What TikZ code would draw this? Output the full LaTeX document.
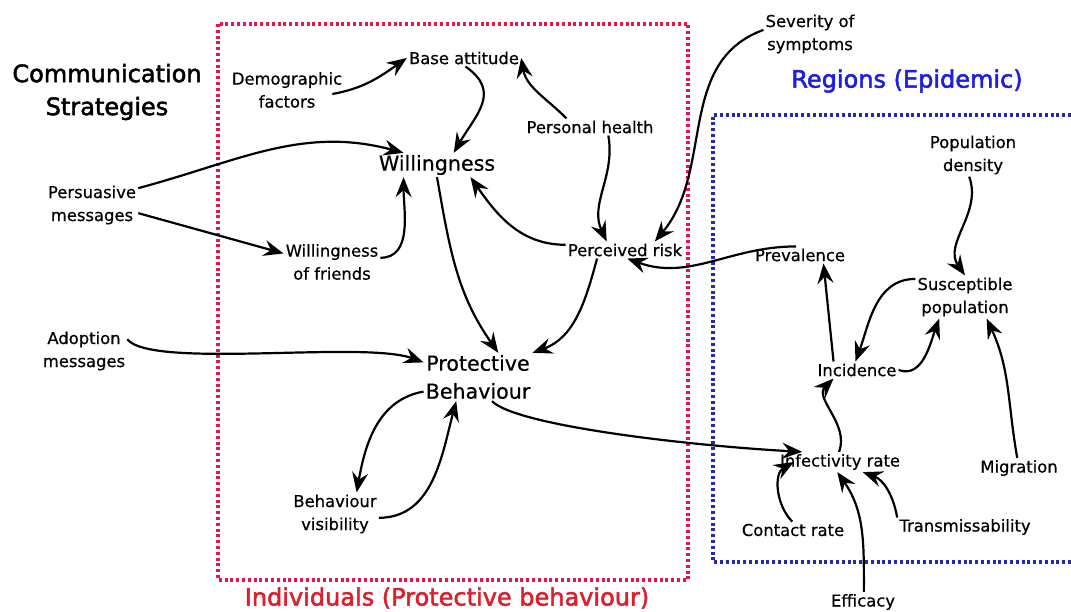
\documentclass[tikz,border=0pt]{standalone}
\usepackage{fontspec}
\setmainfont{DejaVu Sans}[FakeBold=0.6]
\newfontfamily\headfont{DejaVu Sans}[FakeBold=2]
\usetikzlibrary{arrows.meta}
\definecolor{boxred}{RGB}{232,20,76}
\definecolor{txtred}{RGB}{222,30,45}
\definecolor{boxblue}{RGB}{40,40,175}
\definecolor{txtblue}{RGB}{30,30,225}
\begin{document}
\begin{tikzpicture}[x=1pt,y=1pt,
  lbl/.style={font=\fontsize{16.4}{23}\selectfont,align=center,inner sep=2pt},
  keylbl/.style={font=\fontsize{20.6}{28}\selectfont,align=center,inner sep=2pt},
  heading/.style={font=\headfont\fontsize{24}{33}\selectfont,align=center,inner sep=2pt},
  link/.style={-{Stealth[length=20pt,width=16pt,inset=7pt]},line width=2.2pt},
  redbox/.style={draw=boxred,line width=3.2pt,dash pattern=on 3pt off 2.8pt},
  bluebox/.style={draw=boxblue,line width=3.2pt,dash pattern=on 3pt off 2.8pt}]
\useasboundingbox (0,0) rectangle (1071,612);
% the two areas
\draw[redbox] (218,588) rectangle (688,32);
\draw[bluebox] (1071,497) -- (713,497) -- (713,50) -- (1071,50);
\node[heading] (comm) at (107,520) {Communication\\Strategies};
\node[heading,txtblue] (regions) at (907,531) {Regions (Epidemic)};
\node[heading,txtred] (indiv) at (447,14) {Individuals (Protective behaviour)};
% individuals
\node[lbl] (demo) at (287,522) {Demographic\\factors};
\node[lbl] (base) at (464,554) {Base attitude};
\node[lbl] (health) at (590,485) {Personal health};
\node[keylbl] (will) at (437,447) {Willingness};
\node[lbl] (pers) at (92,407) {Persuasive\\messages};
\node[lbl] (friends) at (332,350) {Willingness\\of friends};
\node[lbl] (risk) at (625,362) {Perceived risk};
\node[lbl] (sever) at (810,578) {Severity of\\symptoms};
\node[lbl] (adopt) at (84,261) {Adoption\\messages};
\node[keylbl] (prot) at (478,235) {Protective\\Behaviour};
\node[lbl] (vis) at (335,98) {Behaviour\\visibility};
% regions
\node[lbl] (popden) at (973,457) {Population\\density};
\node[lbl] (prev) at (800,357) {Prevalence};
\node[lbl] (suscept) at (965,315) {Susceptible\\population};
\node[lbl] (incid) at (857,242) {Incidence};
\node[lbl] (infect) at (840,150) {Infectivity rate};
\node[lbl] (migr) at (1019,144) {Migration};
\node[lbl] (contact) at (793,82) {Contact rate};
\node[lbl] (trans) at (965,85) {Transmissability};
\node[lbl] (effic) at (863,10) {Efficacy};
% links
\draw[link] ([xshift=-12pt,yshift=-4pt]demo.east) to[out=10,in=215] (base.west);
\draw[link] (health.160) to[out=135,in=-80] (base.east);
\draw[link] (base.-80) to[out=-35,in=60,looseness=1.3] (will.36);
\draw[link] (pers.20) to[out=15,in=165] (will.160);
\draw[link] (pers.-10) -- (friends.170);
\draw[link] (friends.5) to[out=0,in=-90] (will.200);
\draw[link] (risk.175) to[out=180,in=-55] (will.-20);
\draw[link] (will.south) to[out=-80,in=125] (prot.50);
\draw[link] (risk.197) to[out=-105,in=20] (prot.north east);
\draw[link] (health.-25) to[out=-80,in=115] (risk.155);
\draw[link] (sever.175) to[out=200,in=50] (risk.16);
\draw[link] (prev.115) to[out=180,in=-20] (risk.-75);
\draw[link] (adopt.15) .. controls +(25,-30) and +(-60,22) .. (prot.165);
\draw[link] (prot.195) to[out=190,in=80] (vis.45);
\draw[link] (vis.-5) to[out=0,in=-105] (prot.-132);
\draw[link] (prot.-60) .. controls +(25,-25) and +(-110,6) .. (infect.165);
\draw[link] (infect.95) .. controls +(70:30) and +(-135:28) .. (incid.200);
\draw[link] (incid.160) -- (prev.-20);
\draw[link] (suscept.160) to[out=180,in=70] (incid.100);
\draw[link] (incid.east) to[out=-20,in=-110] (suscept.220);
\draw[link] (popden.-100) to[out=-70,in=125] (suscept.north);
\draw[link] (migr.100) to[out=100,in=-65] (suscept.-45);
\draw[link] (contact.95) to[out=135,in=-150] ([xshift=16pt]infect.west);
\draw[link] (effic.85) to[out=90,in=-55] (infect.-105);
\draw[link] (trans.172) to[out=100,in=-20] (infect.-24);
\end{tikzpicture}
\end{document}
